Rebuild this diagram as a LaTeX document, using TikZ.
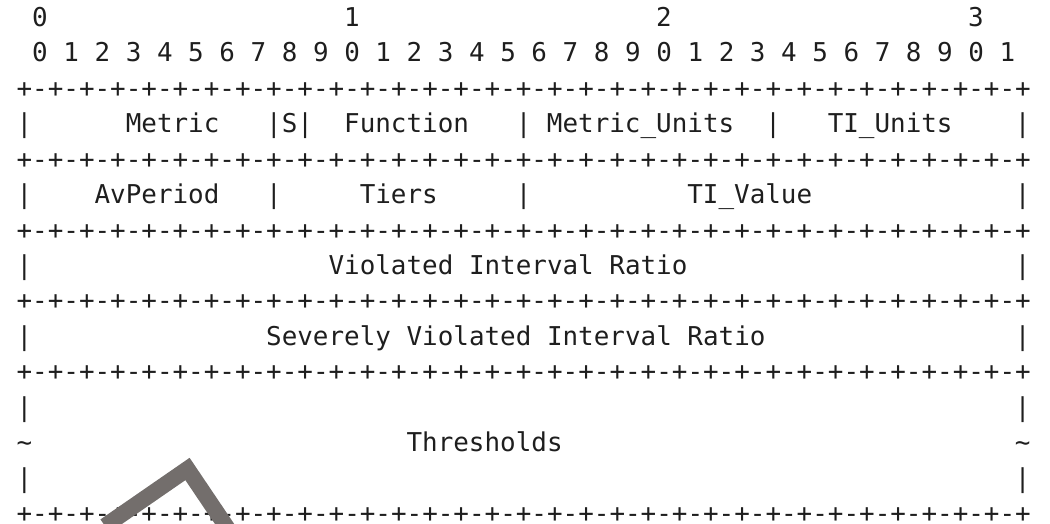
\documentclass[tikz,border=0pt]{standalone}
\usepackage{fontspec}
\setmonofont{DejaVu Sans Mono}
\definecolor{ink}{RGB}{30,30,30}
\definecolor{mark}{RGB}{115,110,108}
\newcommand{\sepline}{+-+-+-+-+-+-+-+-+-+-+-+-+-+-+-+-+-+-+-+-+-+-+-+-+-+-+-+-+-+-+-+-+}
\newcommand{\us}{\char"005F\relax}
\tikzset{
    cell/.style ={
        anchor=base west,
        inner sep=0pt,
        text=ink,
        font=\ttfamily\fontsize{12.96}{15}\selectfont
    },
    wedge/.style ={
        draw=mark,
        line width=8pt,
        miter limit=10
    }
}

\begin{document}
\begin{tikzpicture}[x=7.8pt,y=-17.715pt]
    \useasboundingbox (-1.0385,-0.748) rectangle (66.2731,14.042);
    % bit numbers
    \node[cell] (ten0) at (1,0) {0};
    \node[cell] (ten1) at (21,0) {1};
    \node[cell] (ten2) at (41,0) {2};
    \node[cell] (ten3) at (61,0) {3};
    \node[cell] (bits) at (1,1) {0 1 2 3 4 5 6 7 8 9 0 1 2 3 4 5 6 7 8 9 0 1 2 3 4 5 6 7 8 9 0 1};
    % separators
    \node[cell] (sep2) at (0,2) {\sepline};
    \node[cell] (sep4) at (0,4) {\sepline};
    \node[cell] (sep6) at (0,6) {\sepline};
    \node[cell] (sep8) at (0,8) {\sepline};
    \node[cell] (sep10) at (0,10) {\sepline};
    \node[cell] (sep14) at (0,14) {\sepline};
    % first word
    \node[cell] (bar3a) at (0,3) {|};
    \node[cell] (metric) at (7,3) {Metric};
    \node[cell] (bar3b) at (16,3) {|};
    \node[cell] (s) at (17,3) {S};
    \node[cell] (bar3c) at (18,3) {|};
    \node[cell] (function) at (21,3) {Function};
    \node[cell] (bar3d) at (32,3) {|};
    \node[cell] (munits) at (34,3) {Metric\us Units};
    \node[cell] (bar3e) at (48,3) {|};
    \node[cell] (tiunits) at (52,3) {TI\us Units};
    \node[cell] (bar3f) at (64,3) {|};
    % second word
    \node[cell] (bar5a) at (0,5) {|};
    \node[cell] (avperiod) at (5,5) {AvPeriod};
    \node[cell] (bar5b) at (16,5) {|};
    \node[cell] (tiers) at (22,5) {Tiers};
    \node[cell] (bar5c) at (32,5) {|};
    \node[cell] (tivalue) at (43,5) {TI\us Value};
    \node[cell] (bar5d) at (64,5) {|};
    % ratios
    \node[cell] (bar7a) at (0,7) {|};
    \node[cell] (vir) at (20,7) {Violated Interval Ratio};
    \node[cell] (bar7b) at (64,7) {|};
    \node[cell] (bar9a) at (0,9) {|};
    \node[cell] (svir) at (16,9) {Severely Violated Interval Ratio};
    \node[cell] (bar9b) at (64,9) {|};
    % thresholds
    \node[cell] (bar11a) at (0,11) {|};
    \node[cell] (bar11b) at (64,11) {|};
    \node[cell] (cut12a) at (0,12) {\textasciitilde};
    \node[cell] (thresholds) at (25,12) {Thresholds};
    \node[cell] (cut12b) at (64,12) {\textasciitilde};
    \node[cell] (bar13a) at (0,13) {|};
    \node[cell] (bar13b) at (64,13) {|};
    % grey corner over the bottom rule
    \begin{scope}[shift={(-1.0385,-0.748)},x=0.5pt,y=-0.5pt]
        \clip (0,0) rectangle (1050,524);
        \draw[wedge] (105,526) -- (187.5,469) -- (232,535);
    \end{scope}
\end{tikzpicture}
\end{document}
